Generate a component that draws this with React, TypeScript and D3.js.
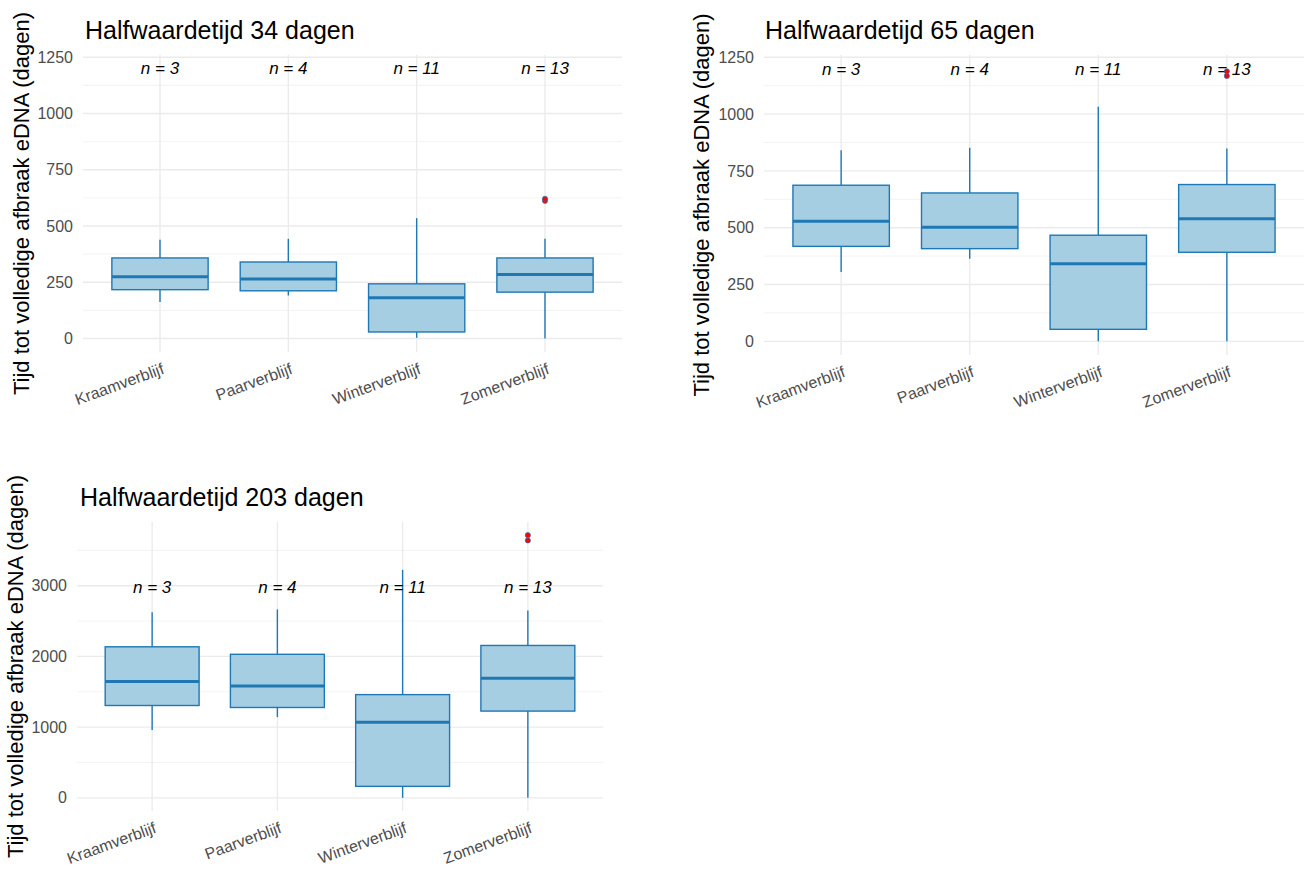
import React from 'react';
import * as d3 from 'd3';

const categories = ['Kraamverblijf', 'Paarverblijf', 'Winterverblijf', 'Zomerverblijf'];
const counts = [3, 4, 11, 13];

// per categorie: [onderste whisker, Q1, mediaan, Q3, bovenste whisker]
const stats34 = [
  [162, 217, 274, 358, 439],
  [191, 212, 265, 340, 443],
  [3, 29, 181, 243, 535],
  [0, 206, 284, 358, 443],
];
const outliers34 = [[], [], [], [612, 621]];

const stats65 = [
  [305, 418, 529, 687, 841],
  [364, 408, 502, 653, 852],
  [0, 53, 341, 467, 1032],
  [0, 392, 540, 690, 849],
];
const outliers65 = [[], [], [], [1168, 1188]];

const stats203 = [
  [960, 1306, 1646, 2136, 2626],
  [1142, 1278, 1582, 2030, 2664],
  [0, 163, 1068, 1460, 3224],
  [0, 1227, 1693, 2155, 2650],
];
const outliers203 = [[], [], [], [3640, 3715]];

const ticks34 = [0, 250, 500, 750, 1000, 1250];
const ticks203 = [0, 1000, 2000, 3000];
const labelY = [1200, 1200, 2975];

const panels = [
  { title: 'Halfwaardetijd 34 dagen', stats: stats34, out: outliers34, ticks: ticks34, nY: labelY[0], x0: 83, x1: 622, y0: 55, y1: 352, titleX: 85, titleY: 39, ytX: 21 },
  { title: 'Halfwaardetijd 65 dagen', stats: stats65, out: outliers65, ticks: ticks34, nY: labelY[1], x0: 764, x1: 1304, y0: 55, y1: 355, titleX: 765, titleY: 39, ytX: 701 },
  { title: 'Halfwaardetijd 203 dagen', stats: stats203, out: outliers203, ticks: ticks203, nY: labelY[2], x0: 77, x1: 603, y0: 522, y1: 811, titleX: 80, titleY: 506, ytX: 15 },
];

const FONT = '"Liberation Sans", Arial, sans-serif';
const FILL = '#a6cee3';
const LINE = '#1f78b4';

function Panel({ p }: { p: any }) {
  const all = [0, p.nY, ...p.stats.flat(), ...p.out.flat()];
  const lo = d3.min(all) as number;
  const hi = d3.max(all) as number;
  const pad = (hi - lo) * 0.05;
  const y = d3.scaleLinear().domain([lo - pad, hi + pad]).range([p.y1, p.y0]);
  const x = d3.scaleLinear().domain([0.4, 4.6]).range([p.x0, p.x1]);
  const unit = x(2) - x(1);
  const bw = unit * 0.75;
  const step = p.ticks[1] - p.ticks[0];
  const minor = p.ticks.map((t: number) => t + step / 2).filter((t: number) => y(t) > p.y0 && y(t) < p.y1);
  const cy = (p.y0 + p.y1) / 2;
  return (
    <g>
      {minor.map((t: number) => (
        <line key={'m' + t} x1={p.x0} x2={p.x1} y1={y(t)} y2={y(t)} stroke="#f0f0f0" strokeWidth={0.8} />
      ))}
      {p.ticks.map((t: number) => (
        <line key={'g' + t} x1={p.x0} x2={p.x1} y1={y(t)} y2={y(t)} stroke="#ebebeb" strokeWidth={1.4} />
      ))}
      {categories.map((c, i) => (
        <line key={'v' + c} x1={x(i + 1)} x2={x(i + 1)} y1={p.y0} y2={p.y1} stroke="#ebebeb" strokeWidth={1.4} />
      ))}
      {p.ticks.map((t: number) => (
        <text key={'t' + t} x={p.x0 - 10} y={y(t)} dy="0.35em" textAnchor="end" fontSize={16} fill="#4d4d4d" fontFamily={FONT}>{t}</text>
      ))}
      {p.stats.map((s: number[], i: number) => {
        const cx = x(i + 1);
        return (
          <g key={'b' + i}>
            <line x1={cx} x2={cx} y1={y(s[0])} y2={y(s[1])} stroke={LINE} strokeWidth={1.4} />
            <line x1={cx} x2={cx} y1={y(s[3])} y2={y(s[4])} stroke={LINE} strokeWidth={1.4} />
            <rect x={cx - bw / 2} y={y(s[3])} width={bw} height={y(s[1]) - y(s[3])} fill={FILL} stroke={LINE} strokeWidth={1.4} />
            <line x1={cx - bw / 2} x2={cx + bw / 2} y1={y(s[2])} y2={y(s[2])} stroke={LINE} strokeWidth={3} />
          </g>
        );
      })}
      {categories.map((c, i) => (
        <text key={'n' + c} x={x(i + 1)} y={y(p.nY)} dy="0.35em" textAnchor="middle" fontSize={17} fontStyle="italic" fill="#000" fontFamily={FONT}>
          {'n = ' + counts[i]}
        </text>
      ))}
      {p.out.map((o: number[], i: number) =>
        o.map((v: number, j: number) => (
          <circle key={'o' + i + '-' + j} cx={x(i + 1)} cy={y(v)} r={2.6} fill="#ff0000" stroke={LINE} strokeWidth={0.7} />
        ))
      )}
      {categories.map((c, i) => (
        <text key={'x' + c} transform={`translate(${x(i + 1) + 1},${p.y1 + 10}) rotate(-20)`} textAnchor="end" dy="0.75em" fontSize={16} fill="#4d4d4d" fontFamily={FONT}>
          {c}
        </text>
      ))}
      <text x={p.titleX} y={p.titleY} fontSize={25} fill="#000" fontFamily={FONT}>{p.title}</text>
      <text transform={`translate(${p.ytX},${cy}) rotate(-90)`} textAnchor="middle" dy="0.35em" fontSize={22} fill="#000" fontFamily={FONT}>
        Tijd tot volledige afbraak eDNA (dagen)
      </text>
    </g>
  );
}

export default function App() {
  return (
    <svg width={1308} height={870} style={{ position: 'absolute', left: 0, top: 0, background: '#fff' }}>
      <rect width={1308} height={870} fill="#fff" />
      {panels.map((p) => (
        <Panel key={p.title} p={p} />
      ))}
    </svg>
  );
}
